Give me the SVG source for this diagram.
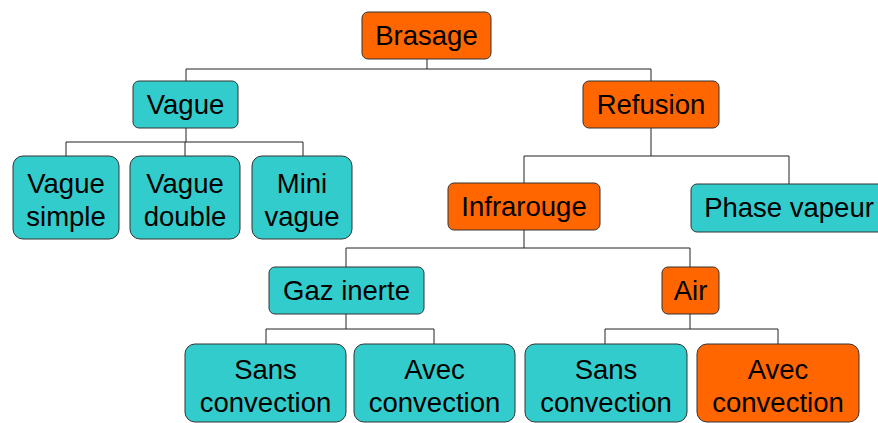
<svg xmlns="http://www.w3.org/2000/svg" width="878" height="423" viewBox="0 0 878 423">
<style>
.o{fill:#FF6600;stroke:#333;stroke-width:1}
.t{fill:#33CCCC;stroke:#333;stroke-width:1}
text{font-family:"Liberation Sans",Arial,sans-serif;font-size:27.5px;fill:#000;text-anchor:middle}
.c{fill:none;stroke:#222;stroke-width:1}
</style>
<rect width="878" height="423" fill="#fff"/>
<g id="connectors" class="c">
<path d="M427,59V69M186,69H651M186,69V81M651,69V81"/>
<path d="M186,128V142M66,142H303M66,142V156M185,142V156M303,142V156"/>
<path d="M651,128V156M524,156H789M524,156V183M789,156V184"/>
<path d="M524,230V248M346,248H690M346,248V267M690,248V267"/>
<path d="M346,314V329M266,329H434M266,329V344M434,329V344"/>
<path d="M690,314V329M605,329H778M605,329V344M778,329V344"/>
</g>
<g id="brasage"><rect class="o" x="362" y="12" width="129" height="47" rx="6"/><text x="426.5" y="45">Brasage</text></g>
<g id="vague"><rect class="t" x="133" y="81" width="105" height="47" rx="6"/><text x="185.5" y="114">Vague</text></g>
<g id="refusion"><rect class="o" x="583" y="81" width="136" height="47" rx="6"/><text x="651" y="114">Refusion</text></g>
<g id="vague-simple"><rect class="t" x="13" y="156" width="106" height="83" rx="10"/><text x="66" y="193">Vague</text><text x="66" y="226">simple</text></g>
<g id="vague-double"><rect class="t" x="130" y="156" width="110" height="83" rx="10"/><text x="185" y="193">Vague</text><text x="185" y="226">double</text></g>
<g id="mini-vague"><rect class="t" x="252" y="156" width="100" height="83" rx="10"/><text x="302" y="193">Mini</text><text x="302" y="226">vague</text></g>
<g id="infrarouge"><rect class="o" x="448" y="183" width="152" height="47" rx="6"/><text x="524" y="216">Infrarouge</text></g>
<g id="phase-vapeur"><rect class="t" x="691" y="184" width="196" height="48" rx="6"/><text x="789" y="217">Phase vapeur</text></g>
<g id="gaz-inerte"><rect class="t" x="269" y="267" width="155" height="47" rx="6"/><text x="346.5" y="300">Gaz inerte</text></g>
<g id="air"><rect class="o" x="662" y="267" width="57" height="47" rx="6"/><text x="690.5" y="300">Air</text></g>
<g id="gaz-sans-convection"><rect class="t" x="185" y="344" width="161" height="78" rx="10"/><text x="265.5" y="379">Sans</text><text x="265.5" y="412">convection</text></g>
<g id="gaz-avec-convection"><rect class="t" x="354" y="344" width="161" height="78" rx="10"/><text x="434.5" y="379">Avec</text><text x="434.5" y="412">convection</text></g>
<g id="air-sans-convection"><rect class="t" x="525" y="344" width="162" height="78" rx="10"/><text x="606" y="379">Sans</text><text x="606" y="412">convection</text></g>
<g id="air-avec-convection"><rect class="o" x="697" y="344" width="162" height="78" rx="10"/><text x="778" y="379">Avec</text><text x="778" y="412">convection</text></g>
</svg>
